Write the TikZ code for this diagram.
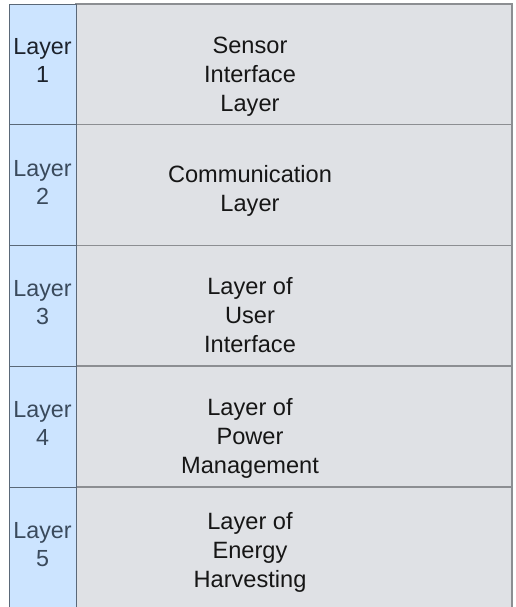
\documentclass[tikz,border=0pt]{standalone}
\usepackage{fontspec}
\setmainfont{Liberation Sans}
\definecolor{tagfill}{HTML}{CCE4FF}
\definecolor{tagline}{HTML}{5A6878}
\definecolor{bodyfill}{HTML}{DFE1E5}
\definecolor{bodyline}{HTML}{8C8E92}
\definecolor{tagtext}{HTML}{3A4A5C}
\definecolor{tagdark}{HTML}{1C222C}
\definecolor{bodytext}{HTML}{161616}
\tikzset{
  tagcell/.style={draw=tagline, fill=tagfill, line width=0.9pt},
  bodycell/.style={draw=bodyline, fill=bodyfill, line width=1.4pt},
  % anchor=base sits on the baseline of the last line
  tagtxt/.style={anchor=base, align=center, inner sep=0pt, text=tagtext,
    font=\fontsize{23.3}{28}\selectfont},
  bodytxt/.style={anchor=base, align=center, inner sep=0pt, text=bodytext,
    font=\fontsize{23.6}{29}\selectfont},
}
\begin{document}
\begin{tikzpicture}[x=1pt, y=-1pt]
\useasboundingbox (0,0) rectangle (515,607);
% body column, one cell per layer
\draw[bodycell] (76,4) rectangle (512,124.5);
\draw[bodycell] (76,124.5) rectangle (512,245.5);
\draw[bodycell] (76,245.5) rectangle (512,366);
\draw[bodycell] (76,366) rectangle (512,487);
\draw[bodycell] (76,487) rectangle (512,612);
% tag column
\draw[tagcell] (9,4) rectangle (76,124.5);
\draw[tagcell] (9,124.5) rectangle (76,245.5);
\draw[tagcell] (9,245.5) rectangle (76,366);
\draw[tagcell] (9,366) rectangle (76,487);
\draw[tagcell] (9,487) rectangle (76,612);
% tag labels
\node[tagtxt, text=tagdark] (t1) at (42.5,83) {Layer\\1};
\node[tagtxt] (t2) at (42.5,204) {Layer\\2};
\node[tagtxt] (t3) at (42.5,324.5) {Layer\\3};
\node[tagtxt] (t4) at (42.5,445.5) {Layer\\4};
\node[tagtxt] (t5) at (42.5,566.5) {Layer\\5};
% layer names
\node[bodytxt] (n1) at (250,112) {Sensor\\Interface\\Layer};
\node[bodytxt] (n2) at (250,211) {Communication\\Layer};
\node[bodytxt] (n3) at (250,352) {Layer of\\User\\Interface};
\node[bodytxt] (n4) at (250,473) {Layer of\\Power\\Management};
\node[bodytxt] (n5) at (250,587) {Layer of\\Energy\\Harvesting};
\end{tikzpicture}
\end{document}
